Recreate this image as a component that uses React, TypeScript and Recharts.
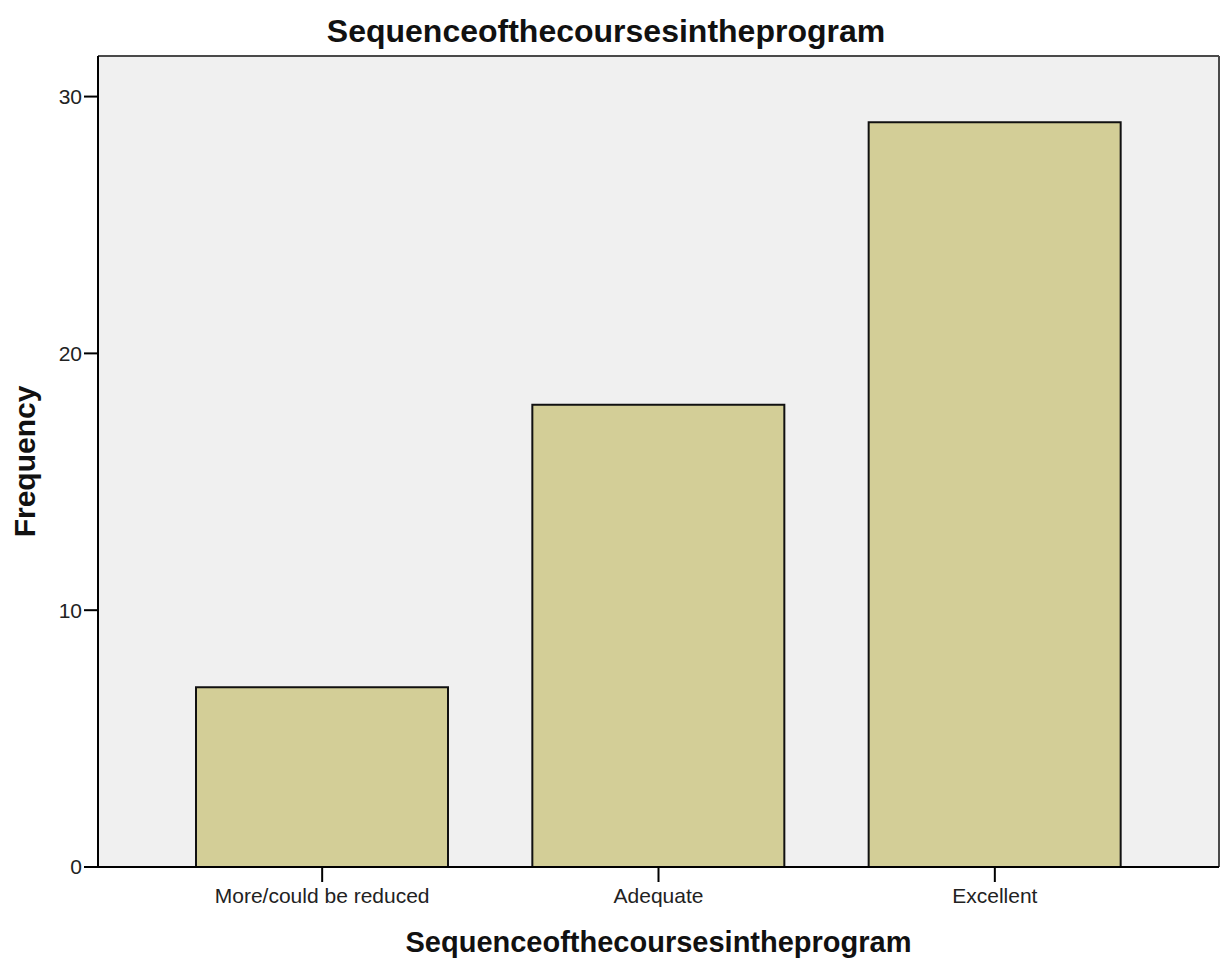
import { BarChart, Bar, XAxis, YAxis, CartesianGrid, Label } from 'recharts';

const categories = ['More/could be reduced', 'Adequate', 'Excellent'];
const frequencies = [7, 18, 29];
const yTicks = [0, 10, 20, 30];
const yMax = 31.58;
const title = 'Sequenceofthecoursesintheprogram';

const data = categories.map((name, i) => ({ name, value: frequencies[i] }));

const font = '"Liberation Sans", Arial, sans-serif';

export default function App() {
  return (
    <div style={{ position: 'absolute', left: 0, top: 0, width: 1224, height: 967, background: '#fff', fontFamily: font }}>
      {/* chart title */}
      <div
        style={{
          position: 'absolute',
          top: 15,
          left: 0,
          width: 1212,
          textAlign: 'center',
          fontSize: 32,
          lineHeight: '32px',
          fontWeight: 'bold',
          color: '#111',
        }}
      >
        {title}
      </div>
      <BarChart width={1224} height={967} data={data} margin={{ top: 56, right: 5, left: 0, bottom: 0 }}>
        {/* plot background + frame along the plot edges */}
        <CartesianGrid
          fill="#f0f0f0"
          fillOpacity={1}
          stroke="#4a4a4a"
          strokeWidth={2}
          horizontalCoordinatesGenerator={({ offset }: any) => [offset.top, offset.top + offset.height]}
          verticalCoordinatesGenerator={({ offset }: any) => [offset.left, offset.left + offset.width]}
        />
        <XAxis
          dataKey="name"
          height={100}
          padding={{ left: 56, right: 56 }}
          tickSize={15}
          tickMargin={6}
          axisLine={{ stroke: '#000', strokeWidth: 2 }}
          tickLine={{ stroke: '#000', strokeWidth: 2 }}
          tick={{ fill: '#222', fontSize: 21, fontFamily: font }}
        >
          <Label
            value={title}
            position="insideBottom"
            offset={15}
            style={{ fontSize: 29, fontWeight: 'bold', fill: '#111', fontFamily: font }}
          />
        </XAxis>
        <YAxis
          width={98}
          domain={[0, yMax]}
          ticks={yTicks}
          tickSize={14}
          tickMargin={2}
          axisLine={{ stroke: '#000', strokeWidth: 2 }}
          tickLine={{ stroke: '#000', strokeWidth: 2 }}
          tick={{ fill: '#222', fontSize: 21, fontFamily: font }}
        >
          <Label
            value="Frequency"
            position="insideLeft"
            angle={-90}
            offset={24}
            style={{ textAnchor: 'middle', fontSize: 30, fontWeight: 'bold', fill: '#111', fontFamily: font }}
          />
        </YAxis>
        <Bar dataKey="value" fill="#d3ce97" stroke="#111" strokeWidth={2} barSize={252} isAnimationActive={false} />
      </BarChart>
    </div>
  );
}
